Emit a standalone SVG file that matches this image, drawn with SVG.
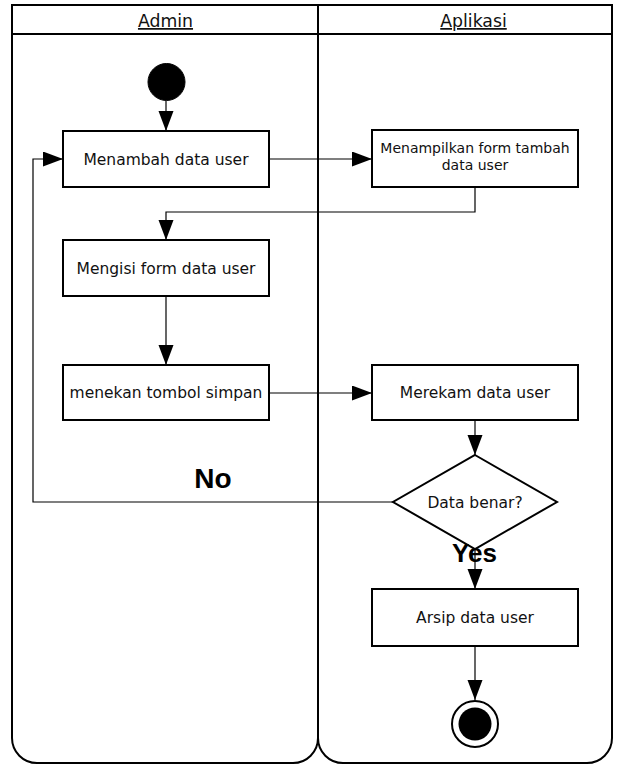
<svg xmlns="http://www.w3.org/2000/svg" width="617" height="764" viewBox="0 0 617 764">
<style>
.lane{fill:#fff;stroke:#000;stroke-width:2}
.box{fill:#fff;stroke:#000;stroke-width:2}
.t{font-family:"DejaVu Sans",sans-serif;font-size:15.5px;fill:#111;text-anchor:middle}
.t2{font-family:"DejaVu Sans",sans-serif;font-size:14px;fill:#111;text-anchor:middle}
.hd{font-family:"DejaVu Sans",sans-serif;font-size:17.3px;fill:#111;text-anchor:middle;text-decoration:underline}
.lbl{font-family:"Liberation Sans",Arial,sans-serif;font-weight:bold;fill:#000;text-anchor:middle}
.c{fill:none;stroke:#000;stroke-width:1.2}
.ca{fill:none;stroke:#000;stroke-width:1.2;marker-end:url(#ah)}
</style>
<defs>
<marker id="ah" markerUnits="userSpaceOnUse" markerWidth="20" markerHeight="16" refX="20" refY="7.5" orient="auto">
<path d="M0,0 L20,7.5 L0,15 Z" fill="#000"/>
</marker>
</defs>
<rect width="617" height="764" fill="#fff"/>
<g id="lane-admin">
<path class="lane" d="M12,5 H318 V738 A25,25 0 0 1 293,763 H37 A25,25 0 0 1 12,738 Z"/>
<line x1="12" y1="34" x2="318" y2="34" stroke="#000" stroke-width="2"/>
<text class="hd" x="165.5" y="27">Admin</text>
</g>
<g id="lane-aplikasi">
<path class="lane" d="M318,5 H612 V738 A25,25 0 0 1 587,763 H343 A25,25 0 0 1 318,738 Z"/>
<line x1="318" y1="34" x2="612" y2="34" stroke="#000" stroke-width="2"/>
<text class="hd" x="473.5" y="27">Aplikasi</text>
</g>
<g id="connectors">
<line class="ca" x1="166" y1="101" x2="166" y2="131"/>
<line class="ca" x1="269" y1="159" x2="372" y2="159"/>
<polyline class="ca" points="475,187 475,212 166,212 166,240"/>
<line class="ca" x1="166" y1="296" x2="166" y2="365"/>
<line class="ca" x1="269" y1="393" x2="372" y2="393"/>
<line class="ca" x1="475" y1="405" x2="475" y2="455"/>
<polyline class="ca" points="393,502 33,502 33,159 63,159"/>
<line class="ca" x1="475" y1="549" x2="475" y2="589"/>
<line class="ca" x1="475" y1="646" x2="475" y2="700"/>
</g>
<g id="start">
<circle cx="166.5" cy="82" r="18.5" fill="#000" stroke="#000" stroke-width="1"/>
</g>
<g id="menambah">
<rect class="box" x="63" y="131" width="206" height="56"/>
<text class="t" x="166" y="164.5">Menambah data user</text>
</g>
<g id="menampilkan">
<rect class="box" x="372" y="130" width="206" height="57"/>
<text class="t2" x="475" y="153">Menampilkan form tambah</text>
<text class="t2" x="475" y="170">data user</text>
</g>
<g id="mengisi">
<rect class="box" x="63" y="240" width="206" height="56"/>
<text class="t" x="166" y="273.5">Mengisi form data user</text>
</g>
<g id="menekan">
<rect class="box" x="63" y="365" width="206" height="55"/>
<text class="t" x="166" y="398">menekan tombol simpan</text>
</g>
<g id="merekam">
<rect class="box" x="372" y="365" width="206" height="55"/>
<text class="t" x="475" y="398">Merekam data user</text>
</g>
<g id="decision">
<polygon class="box" points="475,455 557,502 475,549 393,502"/>
<text class="t" x="475" y="508">Data benar?</text>
</g>
<g id="arsip">
<rect class="box" x="372" y="589" width="206" height="57"/>
<text class="t" x="475" y="623">Arsip data user</text>
</g>
<g id="end">
<circle cx="475" cy="724" r="23" fill="#fff" stroke="#000" stroke-width="2"/>
<circle cx="475" cy="724" r="16.5" fill="#000"/>
</g>
<g id="labels">
<text class="lbl" x="213" y="488" font-size="28">No</text>
<text class="lbl" x="474.5" y="562" font-size="26">Yes</text>
</g>
</svg>
